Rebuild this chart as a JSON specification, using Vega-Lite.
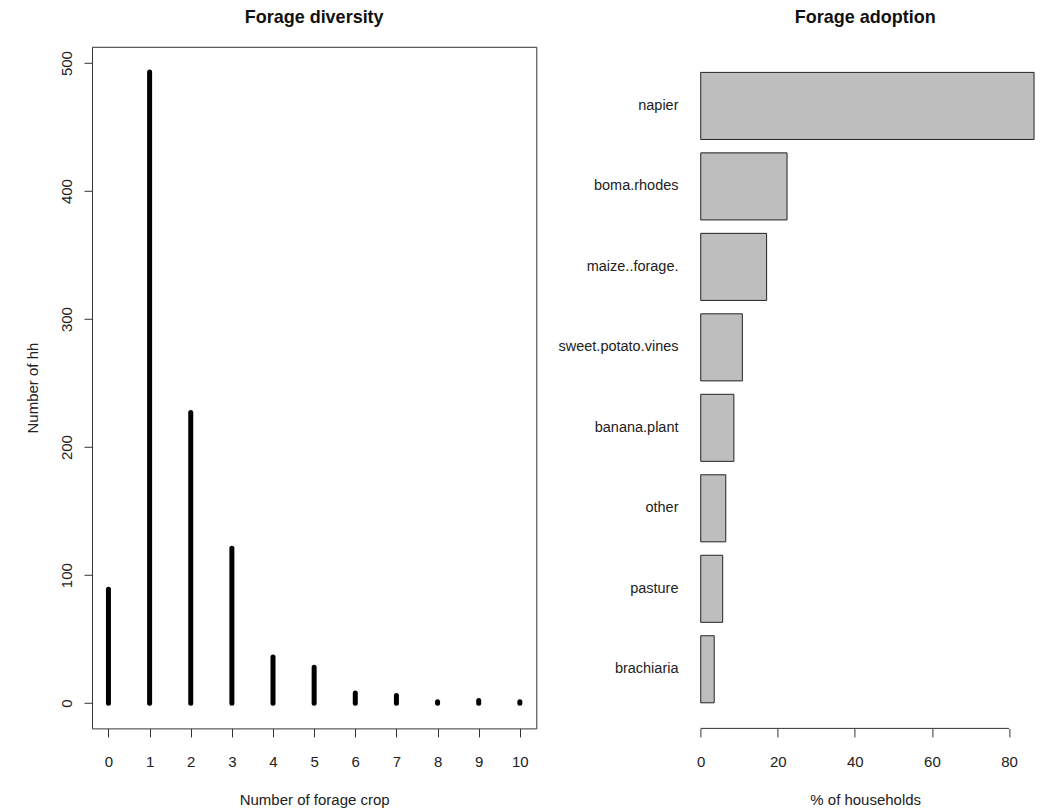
{
  "$schema": "https://vega.github.io/schema/vega-lite/v6.json",
  "background": "white",
  "padding": {"left": 25, "top": 7.8, "right": 0, "bottom": 0},
  "bounds": "flush",
  "spacing": 150.4,
  "config": {
    "font": "Liberation Sans, Arial, sans-serif",
    "view": {"stroke": null},
    "axis": {
      "labelFont": "Liberation Sans, Arial, sans-serif",
      "labelFontSize": 15,
      "labelColor": "#222",
      "titleFont": "Liberation Sans, Arial, sans-serif",
      "titleFontSize": 15,
      "titleFontWeight": "normal",
      "titleColor": "#222",
      "tickColor": "#333",
      "tickWidth": 1,
      "grid": false,
      "domain": false,
      "labelFlush": false,
      "labelOverlap": false
    },
    "title": {
      "font": "Liberation Sans, Arial, sans-serif",
      "fontSize": 18,
      "fontWeight": "bold",
      "color": "#111",
      "anchor": "middle",
      "frame": "group",
      "baseline": "alphabetic",
      "offset": 19.7
    }
  },
  "hconcat": [
    {
      "title": "Forage diversity",
      "width": 444.3,
      "height": 681.6,
      "view": {"stroke": "#333", "strokeWidth": 1},
      "data": {
        "values": [
          {"crops": 0, "hh": 89},
          {"crops": 1, "hh": 493},
          {"crops": 2, "hh": 227},
          {"crops": 3, "hh": 121},
          {"crops": 4, "hh": 36},
          {"crops": 5, "hh": 28},
          {"crops": 6, "hh": 8},
          {"crops": 7, "hh": 6},
          {"crops": 8, "hh": 1},
          {"crops": 9, "hh": 2},
          {"crops": 10, "hh": 1}
        ]
      },
      "mark": {"type": "rule", "strokeWidth": 5, "strokeCap": "round", "color": "black"},
      "encoding": {
        "x": {
          "field": "crops",
          "type": "quantitative",
          "scale": {"domain": [-0.4, 10.4], "nice": false, "zero": false},
          "axis": {
            "values": [0, 1, 2, 3, 4, 5, 6, 7, 8, 9, 10],
            "tickSize": 8.5,
            "labelPadding": 29.2,
            "labelBaseline": "alphabetic",
            "title": "Number of forage crop",
            "titleY": 76.5,
            "titleBaseline": "alphabetic"
          }
        },
        "y": {
          "field": "hh",
          "type": "quantitative",
          "scale": {"domain": [-19.72, 512.72], "nice": false, "zero": false},
          "axis": {
            "values": [0, 100, 200, 300, 400, 500],
            "tickSize": 8,
            "labelAngle": 270,
            "labelAlign": "center",
            "labelBaseline": "alphabetic",
            "labelPadding": 13,
            "title": "Number of hh",
            "titleAngle": 270,
            "titleAlign": "center",
            "titleBaseline": "alphabetic",
            "titleX": -54.4,
            "titleY": 340.8
          }
        },
        "y2": {"datum": 0}
      }
    },
    {
      "title": "Forage adoption",
      "width": 355.6,
      "height": 681.6,
      "layer": [
        {
          "data": {
            "values": [
              {"forage": "napier", "pct": 86.5},
              {"forage": "boma.rhodes", "pct": 22.4},
              {"forage": "maize..forage.", "pct": 17.1},
              {"forage": "sweet.potato.vines", "pct": 10.8},
              {"forage": "banana.plant", "pct": 8.6},
              {"forage": "other", "pct": 6.5},
              {"forage": "pasture", "pct": 5.7},
              {"forage": "brachiaria", "pct": 3.5}
            ]
          },
          "mark": {"type": "bar", "fill": "#bebebe", "stroke": "#222", "strokeWidth": 1},
          "encoding": {
            "y": {
              "field": "forage",
              "type": "nominal",
              "sort": null,
              "scale": {"paddingInner": 0.1667, "paddingOuter": 0.318},
              "axis": {
                "ticks": false,
                "domain": false,
                "labelPadding": 9.4,
                "labelFontSize": 14.5,
                "labelAlign": "right",
                "labelBaseline": "middle",
                "title": null
              }
            },
            "x": {
              "field": "pct",
              "type": "quantitative",
              "scale": {"domain": [-3.46, 88.82], "nice": false, "zero": false},
              "axis": {
                "values": [0, 20, 40, 60, 80],
                "tickSize": 8.5,
                "labelPadding": 29.2,
                "labelBaseline": "alphabetic",
                "title": "% of households",
                "titleY": 76.5,
                "titleBaseline": "alphabetic"
              }
            },
            "x2": {"datum": 0}
          }
        },
        {
          "data": {"values": [{"pct": 0, "to": 80}]},
          "mark": {"type": "rule", "color": "#333", "strokeWidth": 1},
          "encoding": {
            "x": {
              "field": "pct",
              "type": "quantitative",
              "axis": {
                "values": [0, 20, 40, 60, 80],
                "tickSize": 8.5,
                "labelPadding": 29.2,
                "labelBaseline": "alphabetic",
                "title": "% of households",
                "titleY": 76.5,
                "titleBaseline": "alphabetic"
              }
            },
            "x2": {"field": "to"},
            "y": {"value": "height"}
          }
        }
      ]
    }
  ]
}
